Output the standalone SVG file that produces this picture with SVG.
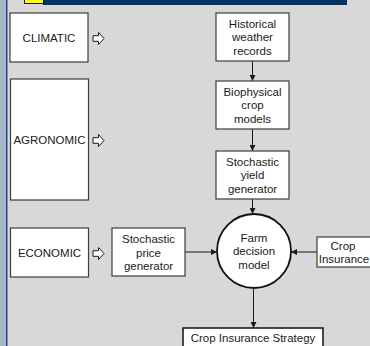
<svg xmlns="http://www.w3.org/2000/svg" width="370" height="346" viewBox="0 0 370 346">
<defs>
<style>
.bx{fill:#fff;stroke:#3c3c3c;stroke-width:1.2}
.t{font-family:"Liberation Sans",Arial,sans-serif;font-size:11.5px;fill:#1a1a1a;text-anchor:middle}
.ln{stroke:#1a1a1a;stroke-width:1;fill:none}
.ha{fill:#fff;stroke:#1a1a1a;stroke-width:1;stroke-linejoin:miter}
</style>
<marker id="ah" viewBox="0 0 8 8" refX="8" refY="4" markerWidth="6" markerHeight="6" orient="auto" markerUnits="userSpaceOnUse">
<path d="M0,0 L8,4 L0,8 z" fill="#1a1a1a"/>
</marker>
<path id="hollow" d="M0,-2.8 L5.5,-2.8 L5.5,-6 L11,0 L5.5,6 L5.5,2.8 L0,2.8 z"/>
</defs>
<rect x="0" y="0" width="370" height="346" fill="#d8d8d8"/>
<rect x="0" y="0" width="6" height="346" fill="#a7b7ca"/>
<rect x="6" y="0" width="1.5" height="346" fill="#1f4c88"/>
<rect x="43" y="0" width="304" height="5" fill="#003366"/>
<rect x="24.5" y="-1" width="19" height="4.5" fill="#ffff00" stroke="#1a1a1a" stroke-width="1"/>

<g id="connectors">
<line class="ln" x1="252.5" y1="61" x2="252.5" y2="81" marker-end="url(#ah)"/>
<line class="ln" x1="252.5" y1="129" x2="252.5" y2="151" marker-end="url(#ah)"/>
<line class="ln" x1="252.5" y1="199" x2="252.5" y2="214" marker-end="url(#ah)"/>
<line class="ln" x1="185" y1="252" x2="217" y2="252" marker-end="url(#ah)"/>
<line class="ln" x1="317" y1="252" x2="291" y2="252" marker-end="url(#ah)"/>
<line class="ln" x1="253.5" y1="288" x2="253.5" y2="328" marker-end="url(#ah)"/>
<use href="#hollow" class="ha" x="93" y="38.5"/>
<use href="#hollow" class="ha" x="93" y="140.5"/>
<use href="#hollow" class="ha" x="93" y="253.5"/>
</g>

<g id="climatic">
<rect class="bx" x="10" y="13" width="78" height="49"/>
<text class="t" x="49" y="42">CLIMATIC</text>
</g>
<g id="agronomic">
<rect class="bx" x="10.5" y="79" width="78" height="121"/>
<text class="t" x="49.5" y="144">AGRONOMIC</text>
</g>
<g id="economic">
<rect class="bx" x="10.5" y="228" width="78" height="49"/>
<text class="t" x="49.5" y="257">ECONOMIC</text>
</g>
<g id="historical">
<rect class="bx" x="216" y="13" width="73" height="48"/>
<text class="t" x="252.5" y="27.5">Historical</text>
<text class="t" x="252.5" y="41">weather</text>
<text class="t" x="252.5" y="54.5">records</text>
</g>
<g id="biophysical">
<rect class="bx" x="216" y="81" width="73" height="48"/>
<text class="t" x="252.5" y="95.5">Biophysical</text>
<text class="t" x="252.5" y="109">crop</text>
<text class="t" x="252.5" y="122.5">models</text>
</g>
<g id="yield">
<rect class="bx" x="216" y="151" width="73" height="48"/>
<text class="t" x="252.5" y="165.5">Stochastic</text>
<text class="t" x="252.5" y="179">yield</text>
<text class="t" x="252.5" y="192.5">generator</text>
</g>
<g id="price">
<rect class="bx" x="112" y="228" width="73" height="48"/>
<text class="t" x="148.5" y="243">Stochastic</text>
<text class="t" x="148.5" y="256.5">price</text>
<text class="t" x="148.5" y="270">generator</text>
</g>
<g id="farm">
<circle cx="254" cy="251" r="37" fill="#fff" stroke="#111" stroke-width="1.8"/>
<text class="t" x="254" y="241.5">Farm</text>
<text class="t" x="254" y="255">decision</text>
<text class="t" x="254" y="268.5">model</text>
</g>
<g id="insurance">
<rect class="bx" x="317" y="237" width="55" height="30"/>
<text class="t" x="343" y="249.5">Crop</text>
<text class="t" x="344" y="262.5">Insurance</text>
</g>
<g id="strategy">
<rect x="183" y="328" width="140" height="22" fill="#fff" stroke="#111" stroke-width="1.5"/>
<text class="t" x="253" y="342">Crop Insurance Strategy</text>
</g>
</svg>
